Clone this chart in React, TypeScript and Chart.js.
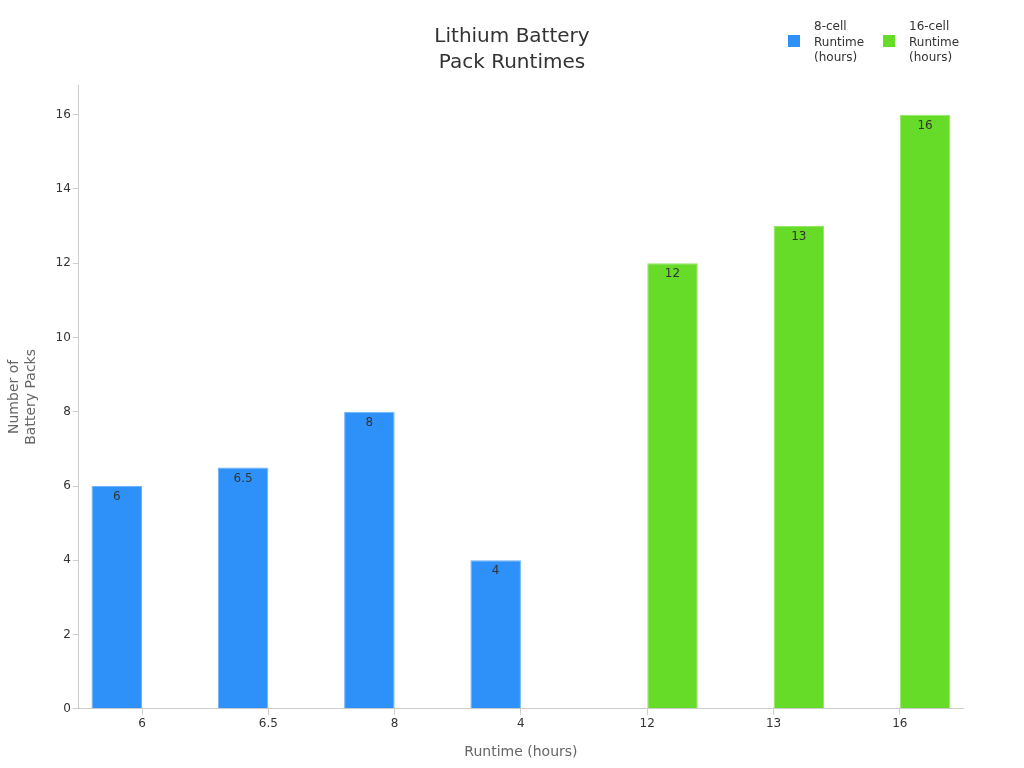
import React, { useEffect, useRef } from "react";
import { Chart, registerables } from "chart.js";

Chart.register(...registerables);

const categories = ["6", "6.5", "8", "4", "12", "13", "16"];
const eightCell = [6, 6.5, 8, 4, null, null, null];
const sixteenCell = [null, null, null, null, 12, 13, 16];
const seriesLabels = [
  ["8-cell", "Runtime", "(hours)"],
  ["16-cell", "Runtime", "(hours)"],
];
const seriesColors = ["#2E91FA", "#66DB28"];
const seriesBorders = ["#6fb2fb", "#93e765"];
const titleLines = ["Lithium Battery", "Pack Runtimes"];
const yTitle = ["Number of", "Battery Packs"];
const xTitle = "Runtime (hours)";

const FONT = "'DejaVu Sans', sans-serif";

const valueLabels = {
  id: "valueLabels",
  afterDatasetsDraw(chart: any) {
    const ctx = chart.ctx;
    ctx.save();
    ctx.font = `12px ${FONT}`;
    ctx.fillStyle = "#333333";
    ctx.textAlign = "center";
    ctx.textBaseline = "middle";
    chart.data.datasets.forEach((ds: any, di: number) => {
      const meta = chart.getDatasetMeta(di);
      meta.data.forEach((el: any, i: number) => {
        const v = ds.data[i];
        if (v === null || v === undefined) return;
        ctx.fillText(String(v), el.x, el.y + 11);
      });
    });
    ctx.restore();
  },
};

const topTitleAndLegend = {
  id: "topTitleAndLegend",
  afterDraw(chart: any) {
    const ctx = chart.ctx;
    ctx.save();
    ctx.font = `20px ${FONT}`;
    ctx.fillStyle = "#333333";
    ctx.textAlign = "center";
    ctx.textBaseline = "middle";
    titleLines.forEach((t, i) => ctx.fillText(t, 512, 37 + i * 26));

    // legend
    const xs = [788, 883];
    ctx.font = `12px ${FONT}`;
    ctx.textAlign = "left";
    chart.data.datasets.forEach((ds: any, i: number) => {
      ctx.fillStyle = ds.backgroundColor;
      ctx.fillRect(xs[i], 35, 12, 12);
      ctx.fillStyle = "#333333";
      seriesLabels[i].forEach((line, j) => ctx.fillText(line, xs[i] + 26, 27 + j * 15.5));
    });
    ctx.restore();
  },
};

export default function App() {
  const ref = useRef<HTMLCanvasElement>(null);
  useEffect(() => {
    if (!ref.current) return;
    const chart = new Chart(ref.current, {
      type: "bar",
      data: {
        labels: categories,
        datasets: [
          {
            label: seriesLabels[0].join(" "),
            data: eightCell,
            backgroundColor: seriesColors[0],
            borderColor: seriesBorders[0],
            borderWidth: 1,
            barPercentage: 1,
            categoryPercentage: 0.8,
          },
          {
            label: seriesLabels[1].join(" "),
            data: sixteenCell,
            backgroundColor: seriesColors[1],
            borderColor: seriesBorders[1],
            borderWidth: 1,
            barPercentage: 1,
            categoryPercentage: 0.8,
          },
        ] as any,
      },
      options: {
        animation: false,
        responsive: true,
        maintainAspectRatio: false,
        layout: { padding: { left: 6, right: 61, top: 85, bottom: 7 } },
        plugins: {
          title: { display: false },
          tooltip: { enabled: false },
          legend: { display: false },
        },
        scales: {
          x: {
            grid: { display: true, offset: false, drawOnChartArea: false, drawTicks: true, tickLength: 6, color: "#cccccc" },
            border: { color: "#cccccc" },
            ticks: { color: "#333333", font: { family: FONT, size: 12 }, padding: 2 },
            title: {
              display: true,
              text: xTitle,
              color: "#666666",
              font: { family: FONT, size: 14 },
              padding: { top: 11, bottom: 0 },
            },
          },
          y: {
            min: 0,
            max: 16.8,
            grid: { display: true, drawOnChartArea: false, drawTicks: true, tickLength: 6, color: "#cccccc" },
            border: { color: "#cccccc" },
            afterBuildTicks: (scale: any) => {
              scale.ticks = scale.ticks.filter((t: any) => Math.abs(t.value % 2) < 1e-9);
            },
            ticks: { stepSize: 2, color: "#333333", font: { family: FONT, size: 12 }, padding: 2 },
            title: {
              display: true,
              text: yTitle,
              color: "#666666",
              font: { family: FONT, size: 14 },
              padding: { top: 0, bottom: 14 },
            },
          },
        },
      },
      plugins: [valueLabels, topTitleAndLegend],
    });
    return () => chart.destroy();
  }, []);
  return (
    <div style={{ position: "absolute", left: 0, top: 0, width: 1024, height: 768 }}>
      <canvas ref={ref} />
    </div>
  );
}
